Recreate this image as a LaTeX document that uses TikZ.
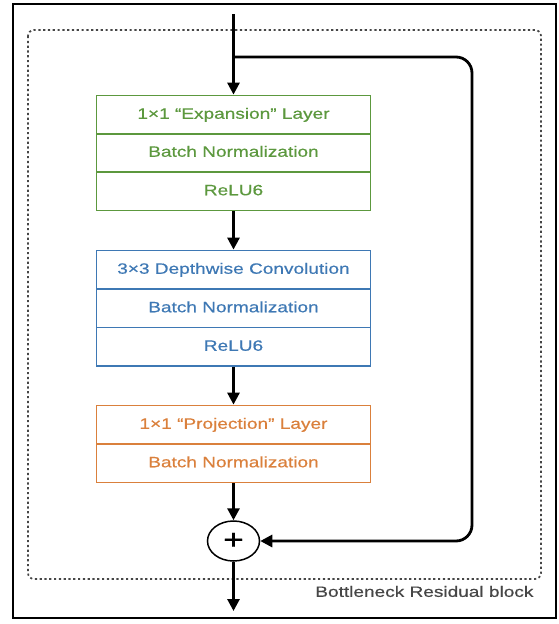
\documentclass[tikz,border=0pt]{standalone}
\usepackage{fontspec}
\setmainfont{Liberation Sans}[FakeStretch=1.27,FakeBold=0.5]
\usetikzlibrary{arrows.meta,shapes.geometric}
\definecolor{cgreen}{RGB}{92,152,62}
\definecolor{cblue}{RGB}{62,120,180}
\definecolor{corange}{RGB}{218,128,60}
\definecolor{cgray}{RGB}{70,70,70}
\tikzset{
  rowbox/.style={draw, line width=1.8pt, minimum width=274pt, minimum height=38.5pt,
    inner sep=0pt, text height=11pt, text depth=3pt, font=\fontsize{15}{18}\selectfont},
  greenrow/.style={rowbox, draw=cgreen, text=cgreen},
  bluerow/.style={rowbox, draw=cblue, text=cblue},
  orangerow/.style={rowbox, draw=corange, text=corange},
  arr/.style={line width=2.8pt, -{Triangle[length=12pt,width=12pt]}}
}
\begin{document}
\begin{tikzpicture}[x=1pt,y=-1pt]
\useasboundingbox (0,0) rectangle (559,624);
% outer frame
\draw[line width=2.8pt] (13,4) rectangle (556,618);
% dotted block boundary
\draw[dash pattern=on 2.2pt off 2.6pt, line width=1.7pt, color=cgray, rounded corners=6pt] (28,30) rectangle (541,579);
% green block
\node[greenrow] (g1) at (233.5,114.75) {1×1 “Expansion” Layer};
\node[greenrow] (g2) at (233.5,152.75) {Batch Normalization};
\node[greenrow] (g3) at (233.5,191.25) {ReLU6};
% blue block
\node[bluerow] (b1) at (233.5,269.75) {3×3 Depthwise Convolution};
\node[bluerow] (b2) at (233.5,308.25) {Batch Normalization};
\node[bluerow] (b3) at (233.5,346.75) {ReLU6};
% orange block
\node[orangerow] (o1) at (233.5,424.75) {1×1 “Projection” Layer};
\node[orangerow] (o2) at (233.5,463.25) {Batch Normalization};
% sum node
\node[draw, ellipse, line width=1.5pt, minimum width=52pt, minimum height=40pt, inner sep=0pt,
  font=\fontsize{28}{28}\selectfont] (plus) at (233.5,541) {+};
% label
\node[anchor=east, text=cgray, font=\fontsize{15}{18}\selectfont] (lbl) at (537,591.5) {Bottleneck Residual block};
% coordinates
\coordinate (in) at (233.5,14);
\coordinate (split) at (233.5,57);
\coordinate (lc1) at (472,57);
\coordinate (lc2) at (472,541);
\coordinate (out) at (233.5,611);
% connectors
\draw[arr] (in) -- (g1.north);
\draw[arr] (g3.south) -- (b1.north);
\draw[arr] (b3.south) -- (o1.north);
\draw[arr] (o2.south) -- (plus.north);
\draw[arr] (plus.south) -- (out);
\draw[arr, rounded corners=16pt] (split) -- (lc1) -- (lc2) -- (plus.east);
\end{tikzpicture}
\end{document}
